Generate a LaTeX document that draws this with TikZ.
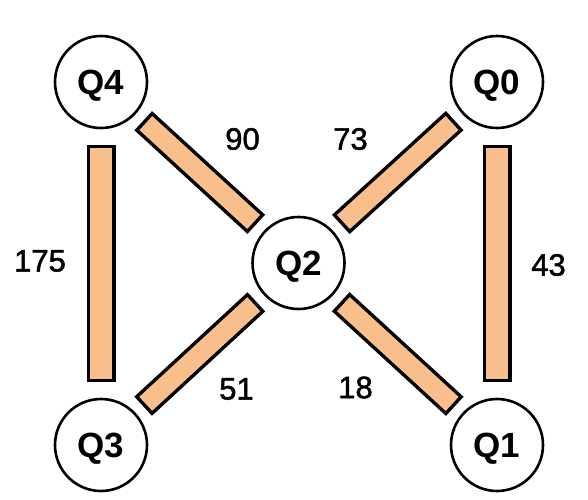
\documentclass[tikz,border=0pt]{standalone}
\usepackage{fontspec}
\setmainfont{Liberation Sans}
\newfontfamily\medfont[FakeBold=1.5]{Liberation Sans}
\definecolor{peach}{RGB}{248,190,140}
\newcommand\linkbar[6]{%
  \draw[black, line width=#3, shorten <=#4, shorten >=#4] (#1) -- (#2);
  \draw[peach, line width=#5, shorten <=#6, shorten >=#6] (#1) -- (#2);}
\begin{document}
\begin{tikzpicture}[x=1pt,y=-1pt,
  qnode/.style={circle, draw=black, line width=2.6pt, minimum size=92pt, inner sep=0pt,
    font=\fontsize{35}{40}\selectfont\bfseries, text depth=0pt},
  wlabel/.style={inner sep=0pt, font=\fontsize{31}{36}\selectfont\medfont}]
\useasboundingbox (0,0) rectangle (588,499);
\node[qnode] (Q4) at (101,82) {Q4};
\node[qnode] (Q0) at (497,82) {Q0};
\node[qnode] (Q2) at (298.5,263) {Q2};
\node[qnode] (Q3) at (101,445) {Q3};
\node[qnode] (Q1) at (497,445) {Q1};
\linkbar{Q4}{Q3}{29pt}{15.5pt}{22pt}{19pt}
\linkbar{Q0}{Q1}{29pt}{15.5pt}{22pt}{19pt}
\linkbar{Q4}{Q2}{26pt}{10pt}{19pt}{13.5pt}
\linkbar{Q0}{Q2}{26pt}{10pt}{19pt}{13.5pt}
\linkbar{Q3}{Q2}{26pt}{10pt}{19pt}{13.5pt}
\linkbar{Q1}{Q2}{26pt}{10pt}{19pt}{13.5pt}
\node[wlabel] (l175) at (40,261) {175};
\node[wlabel] (l43) at (548.5,265) {43};
\node[wlabel] (l90) at (242.5,139) {90};
\node[wlabel] (l73) at (350.5,139) {73};
\node[wlabel] (l51) at (236.5,389) {51};
\node[wlabel] (l18) at (355.5,387.5) {18};
\end{tikzpicture}
\end{document}
